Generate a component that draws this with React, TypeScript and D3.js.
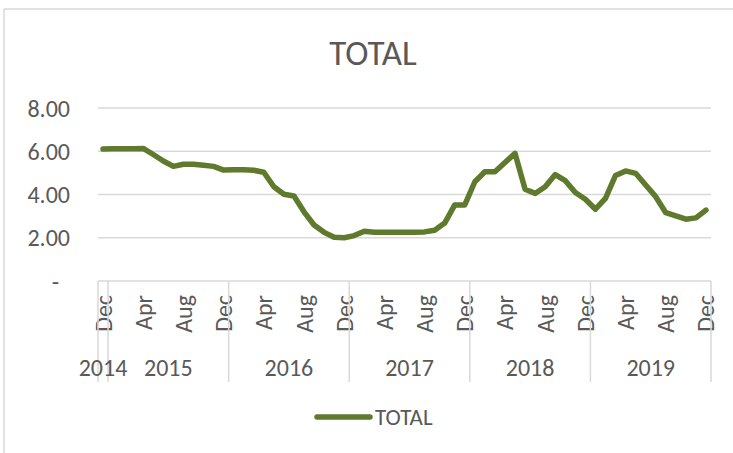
import React, { useEffect, useRef } from 'react';
import * as d3 from 'd3';

const width = 733,
      height = 453;

// monthly values, Dec 2014 .. Dec 2019
const months = [
  'Dec',
  'Jan', 'Feb', 'Mar', 'Apr', 'May', 'Jun', 'Jul', 'Aug', 'Sep', 'Oct', 'Nov', 'Dec',
  'Jan', 'Feb', 'Mar', 'Apr', 'May', 'Jun', 'Jul', 'Aug', 'Sep', 'Oct', 'Nov', 'Dec',
  'Jan', 'Feb', 'Mar', 'Apr', 'May', 'Jun', 'Jul', 'Aug', 'Sep', 'Oct', 'Nov', 'Dec',
  'Jan', 'Feb', 'Mar', 'Apr', 'May', 'Jun', 'Jul', 'Aug', 'Sep', 'Oct', 'Nov', 'Dec',
  'Jan', 'Feb', 'Mar', 'Apr', 'May', 'Jun', 'Jul', 'Aug', 'Sep', 'Oct', 'Nov', 'Dec',
];
const years = ['2014', '2015', '2016', '2017', '2018', '2019'];
const yearLengths = [1, 12, 12, 12, 12, 12];

const total = [
  6.10,
  6.11, 6.11, 6.12, 6.13, 5.85, 5.55, 5.30, 5.40, 5.40, 5.35, 5.30, 5.13,
  5.14, 5.15, 5.12, 5.03, 4.36, 4.01, 3.93, 3.20, 2.59, 2.25, 2.02, 2.00,
  2.10, 2.30, 2.25, 2.25, 2.25, 2.25, 2.25, 2.27, 2.35, 2.68, 3.52, 3.52,
  4.59, 5.05, 5.05, 5.48, 5.90, 4.24, 4.05, 4.36, 4.92, 4.64, 4.09, 3.78,
  3.32, 3.82, 4.88, 5.09, 4.98, 4.44, 3.90, 3.16, 3.01, 2.86, 2.92, 3.28,
];
const yTicks = [0, 2, 4, 6, 8];

const lineColor = '#5f7a2c';
const textColor = '#595959';
const gridColor = '#d9d9d9';
const font = 'Carlito, Calibri, "Open Sans", sans-serif';

const App = () => {
  const ref = useRef<SVGSVGElement>(null);

  useEffect(() => {
    const svg = d3.select(ref.current);
    svg.selectAll('*').remove();

    const left = 98, right = 711, top = 108, bottom = 281;

    const x = d3.scaleBand<number>()
      .domain(d3.range(total.length))
      .range([left, right]);
    const cx = (i: number) => (x(i) as number) + x.bandwidth() / 2;
    const y = d3.scaleLinear().domain([0, 8]).range([bottom, top]);

    // chart frame (top + left edges visible)
    svg.append('line').attr('x1', 4).attr('x2', width).attr('y1', 9).attr('y2', 9)
      .attr('stroke', gridColor).attr('stroke-width', 1.5);
    svg.append('line').attr('x1', 4).attr('x2', 4).attr('y1', 9).attr('y2', height)
      .attr('stroke', gridColor).attr('stroke-width', 1.5);

    svg.append('text')
      .text('TOTAL')
      .attr('x', 373).attr('y', 65)
      .attr('text-anchor', 'middle')
      .attr('font-family', font).attr('font-size', 35)
      .attr('fill', textColor);

    // gridlines
    svg.append('g').selectAll('line')
      .data(yTicks.filter(d => d > 0))
      .enter().append('line')
      .attr('x1', left).attr('x2', right)
      .attr('y1', d => y(d)).attr('y2', d => y(d))
      .attr('stroke', gridColor).attr('stroke-width', 1.5);

    svg.append('g').selectAll('text')
      .data(yTicks)
      .enter().append('text')
      .text(d => d === 0 ? '-' : d3.format('.2f')(d))
      .attr('x', 70).attr('y', d => y(d))
      .attr('dx', d => d === 0 ? -11 : 0)
      .attr('dominant-baseline', 'central')
      .attr('text-anchor', 'end')
      .attr('font-family', font).attr('font-size', 24)
      .attr('fill', textColor);

    // category axis
    svg.append('line').attr('x1', left).attr('x2', right)
      .attr('y1', bottom).attr('y2', bottom)
      .attr('stroke', gridColor).attr('stroke-width', 1.5);

    svg.append('g').selectAll('text')
      .data(d3.range(0, total.length, 4))
      .enter().append('text')
      .text(i => months[i])
      .attr('transform', i => `translate(${cx(i)},295) rotate(-90)`)
      .attr('text-anchor', 'end')
      .attr('dominant-baseline', 'central')
      .attr('font-family', font).attr('font-size', 24)
      .attr('fill', textColor);

    const starts = yearLengths.map((_, k) => d3.sum(yearLengths.slice(0, k)));
    const bounds = starts.map(s => x(s) as number).concat([right]);
    svg.append('g').selectAll('line')
      .data(bounds)
      .enter().append('line')
      .attr('x1', d => d).attr('x2', d => d)
      .attr('y1', bottom).attr('y2', 382)
      .attr('stroke', gridColor).attr('stroke-width', 1.5);

    svg.append('g').selectAll('text')
      .data(years)
      .enter().append('text')
      .text(d => d)
      .attr('x', (d, k) => (bounds[k] + bounds[k + 1]) / 2)
      .attr('y', 367)
      .attr('text-anchor', 'middle')
      .attr('dominant-baseline', 'central')
      .attr('font-family', font).attr('font-size', 24)
      .attr('fill', textColor);

    // series
    const line = d3.line<number>().x((d, i) => cx(i)).y(d => y(d));
    svg.append('path')
      .datum(total)
      .attr('d', line)
      .attr('fill', 'none')
      .attr('stroke', lineColor)
      .attr('stroke-width', 5.5)
      .attr('stroke-linejoin', 'round')
      .attr('stroke-linecap', 'round');

    // legend
    svg.append('line').attr('x1', 317).attr('x2', 370).attr('y1', 417).attr('y2', 417)
      .attr('stroke', lineColor).attr('stroke-width', 5.5).attr('stroke-linecap', 'round');
    svg.append('text')
      .text('TOTAL')
      .attr('x', 375).attr('y', 417)
      .attr('dominant-baseline', 'central')
      .attr('font-family', font).attr('font-size', 23)
      .attr('fill', textColor);
  }, []);

  return (
    <svg ref={ref} width={width} height={height}
      style={{ position: 'absolute', left: 0, top: 0, background: '#fff' }} />
  );
};

export default App;
